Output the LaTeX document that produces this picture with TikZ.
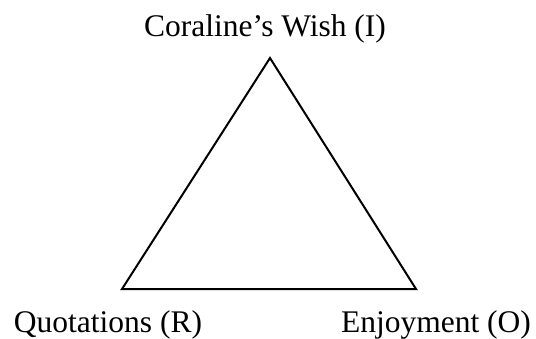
\documentclass[tikz,border=0pt]{standalone}
\usepackage{fontspec}
\setmainfont{Liberation Serif}
\begin{document}
\begin{tikzpicture}[x=1pt,y=-1pt,
  lbl/.style={anchor=base,inner sep=0pt,font=\fontsize{31.5}{38}\selectfont},
  edge/.style={line width=2pt,line join=miter}]
\useasboundingbox (0,0) rectangle (536,338);
\coordinate (apex) at (270,58);
\coordinate (bl) at (122,289);
\coordinate (br) at (416,289);
\draw[edge] (apex) -- (bl) -- (br) -- cycle;
\node[lbl] (wish) at (265,36) {Coraline’s Wish (I)};
\node[lbl] (quot) at (108,332) {Quotations (R)};
\node[lbl] (enj) at (436,332) {Enjoyment (O)};
\end{tikzpicture}
\end{document}
